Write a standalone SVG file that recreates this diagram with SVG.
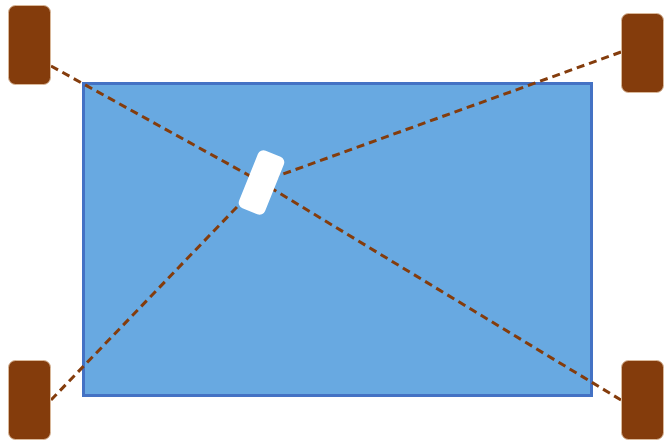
<svg xmlns="http://www.w3.org/2000/svg" width="666" height="443" viewBox="0 0 666 443">
<style>
.post{fill:#843c0c;stroke:#d9b89a;stroke-width:1}
.link{stroke:#843c0c;stroke-width:3;stroke-dasharray:8 5;fill:none}
</style>
<rect width="666" height="443" fill="#ffffff"/>
<g id="field"><rect x="83.5" y="83.5" width="508" height="312" fill="#68a9e1" stroke="#4472c4" stroke-width="3"/></g>
<g id="connectors">
<line class="link" x1="51" y1="66" x2="261" y2="182"/>
<line class="link" x1="621" y1="52" x2="261" y2="182"/>
<line class="link" x1="51" y1="400" x2="261" y2="182"/>
<line class="link" x1="621" y1="400" x2="261" y2="182"/>
</g>
<g id="tag"><rect x="-14" y="-31" width="28" height="62" rx="6" fill="#ffffff" transform="translate(261.5 182.5) rotate(22)"/></g>
<g id="anchor-tl"><rect class="post" x="8.5" y="5.5" width="42" height="79" rx="7"/></g>
<g id="anchor-tr"><rect class="post" x="621.5" y="13.5" width="42" height="79" rx="7"/></g>
<g id="anchor-bl"><rect class="post" x="8.5" y="360.5" width="42" height="79" rx="7"/></g>
<g id="anchor-br"><rect class="post" x="621.5" y="360.5" width="42" height="79" rx="7"/></g>
</svg>
